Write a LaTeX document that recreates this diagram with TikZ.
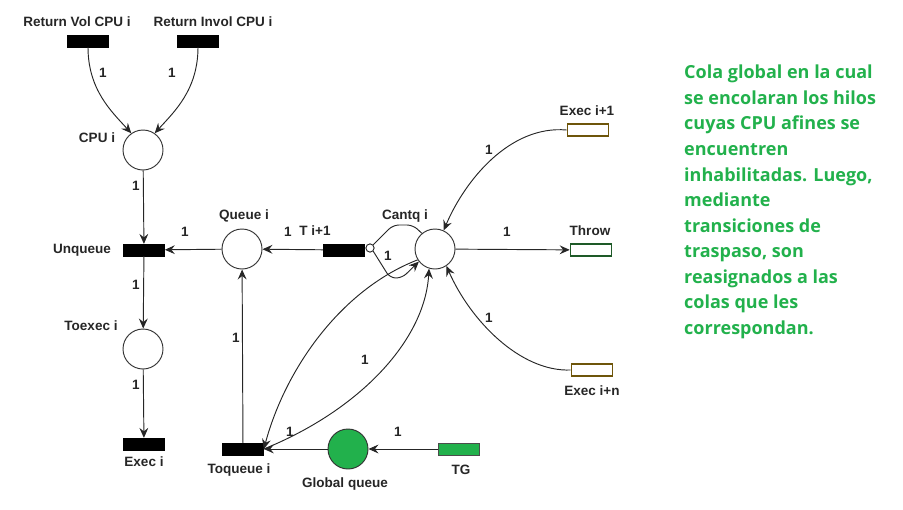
\documentclass[tikz,border=0pt]{standalone}
\usepackage{fontspec}
\setmainfont{Liberation Sans}
\newfontfamily\notefont{Open Sans}
\usetikzlibrary{arrows.meta}
\definecolor{gqgreen}{RGB}{34,177,76}
\definecolor{execedge}{RGB}{110,85,10}
\definecolor{throwedge}{RGB}{30,90,40}

\begin{document}
\begin{tikzpicture}[x=0.85pt,y=-0.85pt,
    place/.style={circle,draw=black!80,fill=white,line width=0.8pt,minimum size=34pt,inner sep=0pt},
    trans/.style={rectangle,fill=black,draw=black,minimum width=35pt,minimum height=10pt,inner sep=0pt},
    outbox/.style={rectangle,fill=white,line width=1.2pt,minimum width=35pt,minimum height=10pt,inner sep=0pt},
    lbl/.style={font=\fontsize{11.5}{13}\selectfont\bfseries,text=black!85,inner sep=1pt},
    arc/.style={draw=black!85,line width=0.8pt,-{Stealth[length=8.5pt,width=7.5pt,inset=3pt]}},
    plain/.style={draw=black!85,line width=0.8pt,rounded corners=5pt}]
    \useasboundingbox (0,0) rectangle (903,509);
    % places and transitions
    \node[trans] (rvol) at (88,41) {};
    \node[lbl] (rvolL) at (77,22) {Return Vol CPU i};
    \node[trans] (rinv) at (198,41) {};
    \node[lbl] (rinvL) at (213,22) {Return Invol CPU i};
    \node[place] (cpu) at (143,150) {};
    \node[lbl] (cpuL) at (97,138) {CPU i};
    \node[trans] (unq) at (144,250) {};
    \node[lbl] (unqL) at (82,250) {Unqueue};
    \node[place] (toex) at (143,349) {};
    \node[lbl] (toexL) at (91,326) {Toexec i};
    \node[trans] (exe) at (144,444) {};
    \node[lbl] (exeL) at (144,462) {Exec i};
    \node[place] (que) at (242,249) {};
    \node[lbl] (queL) at (244,216) {Queue i};
    \node[trans] (tnext) at (344,250) {};
    \node[lbl] (tnextL) at (315,231) {T i+1};
    \node[place] (cant) at (435,249) {};
    \node[lbl] (cantL) at (405,216) {Cantq i};
    \node[outbox,draw=throwedge] (thr) at (591,250) {};
    \node[lbl] (thrL) at (590,231) {Throw};
    \node[outbox,draw=execedge] (ex1) at (588,130) {};
    \node[lbl] (ex1L) at (587,111) {Exec i+1};
    \node[outbox,draw=execedge] (exn) at (592,370) {};
    \node[lbl] (exnL) at (592,391) {Exec i+n};
    \node[trans] (toq) at (243,449) {};
    \node[lbl] (toqL) at (239,470) {Toqueue i};
    \node[place,fill=gqgreen] (glob) at (348,449) {};
    \node[lbl] (globL) at (345,484) {Global queue};
    \node[trans,fill=gqgreen,draw=black!70] (tg) at (459,449) {};
    \node[lbl] (tgL) at (461,470) {TG};
    % arcs
    \draw[arc] (rvol.south) .. controls (88,90) and (112,112) .. (cpu.125);
    \draw[arc] (rinv.south) .. controls (198,90) and (174,112) .. (cpu.55);
    \draw[arc] (cpu) -- (unq);
    \draw[arc] (que) -- (unq);
    \draw[arc] (unq) -- (toex);
    \draw[arc] (toex) -- (exe);
    \draw[arc] (tnext) -- (que);
    \draw[arc] (cant) -- (thr);
    \draw[arc] (toq) -- (que);
    \draw[arc] (glob) -- (toq);
    \draw[arc] (tg) -- (glob);
    \draw[arc] (ex1.west) .. controls (510,125) and (465,180) .. (cant.65);
    \draw[arc] (exn.west) .. controls (520,372) and (470,320) .. (cant.-56);
    \draw[arc] (toq.east) .. controls (360,410) and (425,340) .. (cant.-107);
    \draw[arc] (cant.212) .. controls (340,290) and (285,370) .. (toq.east);
    % inhibitor loop at T i+1
    \node[circle,draw=black!85,fill=white,line width=0.8pt,minimum size=7pt,inner sep=0pt] (inhib) at (370,248) {};
    \draw[plain] (inhib.north east) -- (393,225) -- (413,225) -- (cant.130);
    \draw[plain,-{Stealth[length=8.5pt,width=7.5pt,inset=3pt]}] (inhib.south east) -- (390,278) -- (402,278) -- (cant.218);
    % weights
    \node[lbl] (w1) at (103,73) {1};
    \node[lbl] (w2) at (172,73) {1};
    \node[lbl] (w3) at (136,186) {1};
    \node[lbl] (w4) at (185,232) {1};
    \node[lbl] (w5) at (136,285) {1};
    \node[lbl] (w6) at (136,385) {1};
    \node[lbl] (w7) at (288,232) {1};
    \node[lbl] (w8) at (388,256) {1};
    \node[lbl] (w9) at (507,232) {1};
    \node[lbl] (w10) at (489,150) {1};
    \node[lbl] (w11) at (489,318) {1};
    \node[lbl] (w12) at (236,338) {1};
    \node[lbl] (w13) at (365,360) {1};
    \node[lbl] (w14) at (290,432) {1};
    \node[lbl] (w15) at (398,432) {1};
    % note
    \node[anchor=north west,inner sep=0pt,align=left,text=gqgreen,
        font=\notefont\bfseries\fontsize{15.3}{21.7}\selectfont] (note) at (684,65)
        {Cola global en la cual\\se encolaran los hilos\\cuyas CPU afines se\\encuentren\\inhabilitadas. Luego,\\mediante\\transiciones de\\traspaso, son\\reasignados a las\\colas que les\\correspondan.};
\end{tikzpicture}
\end{document}
